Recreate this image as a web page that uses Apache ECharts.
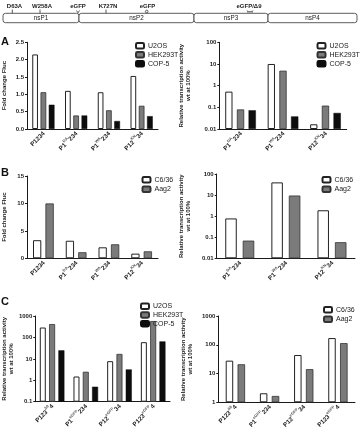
<!DOCTYPE html>
<html>
<head>
<meta charset="utf-8">
<script src="https://cdn.jsdelivr.net/npm/echarts@6/dist/echarts.min.js"></script>
<style>
  html, body { margin: 0; padding: 0; background: #fff; }
  #chart { width: 360px; height: 434px; }
</style>
</head>
<body>
<div id="chart"></div>
<script>
// categories (superscripts between ^ ^)
const catsAL = ['P1234', 'P1^DA^234', 'P1^WA^234', 'P12^KN^34'];
const catsAR = ['P1^DA^234', 'P1^WA^234', 'P12^KN^34'];
const catsC = ['P123^Δ9^4', 'P1^eGFP^234', 'P12^eGFP^34', 'P123^eGFP^4'];

// panel A, fold change
const aU2OS = [2.15, 1.1, 1.06, 1.53];
const aHEK = [1.06, 0.39, 0.54, 0.67];
const aCOP = [0.7, 0.39, 0.23, 0.37];
// panel A, relative activity
const arU2OS = [0.53, 10, 0.0165];
const arHEK = [0.08, 4.9, 0.12];
const arCOP = [0.073, 0.038, 0.055];
// panel B
const bC636 = [3.3, 3.2, 2.0, 0.85];
const bAag2 = [10, 1.1, 2.55, 1.27];
const brC636 = [0.78, 40, 1.9];
const brAag2 = [0.069, 9.5, 0.058];
// panel C
const cU2OS = [290, 1.5, 7.8, 60];
const cHEK = [420, 2.5, 17, 580];
const cCOP = [25, 0.5, 3.2, 65];
const crC636 = [28, 2.06, 44, 171];
const crAag2 = [21, 1.66, 14.2, 114];

const font = 'Liberation Sans, Arial, sans-serif';
const ink = '#1a1a1a';

const whiteBar = { color: '#ffffff', borderColor: '#222', borderWidth: 1 };
const greyBar = { color: '#7b7b7b', borderColor: '#333', borderWidth: 0.8 };
const blackBar = { color: '#0d0d0d', borderColor: '#0d0d0d', borderWidth: 0.5 };

function richLabel(v) {
  return v.split('^').map((p, i) => (i % 2 ? '{s|' + p + '}' : '{n|' + p + '}')).join('');
}

const grids = [
  { left: 27, top: 42.3, width: 131, height: 86.7 },
  { left: 219.3, top: 42.3, width: 127.4, height: 86.7 },
  { left: 26.7, top: 176, width: 131.3, height: 82.3 },
  { left: 216.7, top: 174, width: 138.3, height: 84.3 },
  { left: 28.3, top: 316, width: 141.7, height: 85.7 },
  { left: 218.3, top: 316, width: 136.7, height: 86.3 }
];

function xAxis(idx, cats) {
  return {
    type: 'category', gridIndex: idx, data: cats,
    axisLine: { lineStyle: { color: ink, width: 1 } },
    axisTick: { alignWithLabel: true, length: 2, lineStyle: { color: ink } },
    axisLabel: {
      rotate: 45, margin: 3, interval: 0, color: ink, formatter: richLabel,
      rich: {
        n: { fontSize: 6.2, fontWeight: 'bold', fontFamily: font, color: ink, lineHeight: 8, verticalAlign: 'bottom' },
        s: { fontSize: 4, fontWeight: 'bold', fontFamily: font, color: '#555', lineHeight: 8, verticalAlign: 'top' }
      }
    }
  };
}

const relName = 'Relative transcription activity\nwt at 100%';

function yAxis(idx, opts) {
  return Object.assign({
    gridIndex: idx,
    nameLocation: 'middle', nameRotate: 90,
    nameTextStyle: { fontSize: 6, fontWeight: 'bold', fontFamily: font, color: ink, lineHeight: 7 },
    axisLine: { show: true, lineStyle: { color: ink, width: 1 } },
    axisTick: { show: true, length: 2, lineStyle: { color: ink } },
    splitLine: { show: false },
    minorTick: { show: false },
    axisLabel: { fontSize: 6, fontWeight: 'bold', fontFamily: font, color: ink, margin: 3,
      formatter: v => String(+(+v).toPrecision(3)) }
  }, opts);
}

function logAxis(idx, min, max, gap) {
  return yAxis(idx, { type: 'log', logBase: 10, min: min, max: max, startValue: min, name: relName, nameGap: gap });
}

function bars(name, data, idx, style, width, gap) {
  return {
    type: 'bar', name: name, data: data, xAxisIndex: idx, yAxisIndex: idx,
    barWidth: width, barGap: gap, itemStyle: style, emphasis: { disabled: true }, silent: true
  };
}

function legend(left, top, names, gap) {
  return {
    orient: 'vertical', left: left, top: top, itemWidth: 8, itemHeight: 5.5, itemGap: gap,
    selectedMode: false, data: names,
    textStyle: { fontSize: 7, fontFamily: font, color: ink, padding: [0, 0, 0, -1] }
  };
}

// domain diagram at the top
const domains = [
  { name: 'nsP1', x0: 3, x1: 79 },
  { name: 'nsP2', x0: 79, x1: 194 },
  { name: 'nsP3', x0: 194, x1: 268 },
  { name: 'nsP4', x0: 268, x1: 357 }
];
const marks = [
  { text: 'D63A', x: 14.5, tick: 12.3, kind: 'line' },
  { text: 'W258A', x: 42, tick: 40, kind: 'line' },
  { text: 'eGFP', x: 78, tick: 78, kind: 'v' },
  { text: 'K727N', x: 108, tick: 106, kind: 'line' },
  { text: 'eGFP', x: 147.5, tick: 146.7, kind: 'o' },
  { text: 'eGFP/Δ9', x: 249, tick: 250, kind: 'w' }
];

const graphic = [];
domains.forEach(d => {
  graphic.push({ type: 'rect', shape: { x: d.x0, y: 13.3, width: d.x1 - d.x0, height: 9.4, r: 2.5 },
    style: { fill: '#fff', stroke: '#333', lineWidth: 0.8 } });
  graphic.push({ type: 'text', x: (d.x0 + d.x1) / 2, y: 18, style: { text: d.name, fontSize: 6.3, fontFamily: font,
    fill: ink, align: 'center', verticalAlign: 'middle' } });
});
marks.forEach(m => {
  graphic.push({ type: 'text', x: m.x, y: 6, style: { text: m.text, fontSize: 6, fontWeight: 'bold', fontFamily: font,
    fill: ink, align: 'center', verticalAlign: 'middle' } });
  if (m.kind === 'line') {
    graphic.push({ type: 'line', shape: { x1: m.tick, y1: 9.5, x2: m.tick, y2: 13.3 }, style: { stroke: '#333', lineWidth: 0.8 } });
  } else if (m.kind === 'v') {
    graphic.push({ type: 'polyline', shape: { points: [[m.tick - 1.5, 10.5], [m.tick, 12.8], [m.tick + 1.5, 10.5]] },
      style: { stroke: '#333', lineWidth: 0.8, fill: 'none' } });
  } else if (m.kind === 'o') {
    graphic.push({ type: 'circle', shape: { cx: m.tick, cy: 11.5, r: 1.3 }, style: { stroke: '#333', lineWidth: 0.8, fill: 'none' } });
  } else {
    graphic.push({ type: 'polyline', shape: { points: [[m.tick - 3, 10.5], [m.tick - 2, 12.5], [m.tick - 1, 11], [m.tick, 12.5],
      [m.tick + 1, 11], [m.tick + 2, 12.5], [m.tick + 3, 10.5]] }, style: { stroke: '#333', lineWidth: 0.7, fill: 'none' } });
  }
});
[['A', 1, 36], ['B', 1, 167], ['C', 1, 296]].forEach(p => {
  graphic.push({ type: 'text', x: p[1], y: p[2], style: { text: p[0], fontSize: 11, fontWeight: 'bold', fontFamily: font, fill: '#111' } });
});

const chart = echarts.init(document.getElementById('chart'), null, { renderer: 'canvas' });
chart.setOption({
  animation: false,
  backgroundColor: '#fff',
  textStyle: { fontFamily: font },
  grid: grids,
  xAxis: [xAxis(0, catsAL), xAxis(1, catsAR), xAxis(2, catsAL), xAxis(3, catsAR), xAxis(4, catsC), xAxis(5, catsC)],
  yAxis: [
    yAxis(0, { type: 'value', min: 0, max: 2.5, interval: 0.5, name: 'Fold change Fluc', nameGap: 19,
      axisLabel: { fontSize: 6, fontWeight: 'bold', fontFamily: font, color: ink, margin: 3, formatter: v => v.toFixed(1) } }),
    logAxis(1, 0.01, 100, 27),
    yAxis(2, { type: 'value', min: 0, max: 15, interval: 5, name: 'Fold change Fluc', nameGap: 19 }),
    logAxis(3, 0.01, 100, 25),
    logAxis(4, 0.1, 1000, 17),
    logAxis(5, 1, 1000, 24)
  ],
  legend: [
    legend(130, 37, ['U2OS', 'HEK293T', 'COP-5'], 1.5),
    legend(311.5, 37, ['U2OS', 'HEK293T', 'COP-5'], 1.5),
    legend(136.5, 171, ['C6/36', 'Aag2'], 2),
    legend(316.5, 171, ['C6/36', 'Aag2'], 2),
    legend(135, 297.5, ['U2OS', 'HEK293T', 'COP-5'], 1.2),
    legend(318, 301, ['C6/36', 'Aag2'], 2)
  ],
  graphic: graphic,
  series: [
    bars('U2OS', aU2OS, 0, whiteBar, 5.7, '45%'),
    bars('HEK293T', aHEK, 0, greyBar, 5.7, '45%'),
    bars('COP-5', aCOP, 0, blackBar, 5.7, '45%'),
    bars('U2OS', arU2OS, 1, whiteBar, 7.3, '60%'),
    bars('HEK293T', arHEK, 1, greyBar, 7.3, '60%'),
    bars('COP-5', arCOP, 1, blackBar, 7.3, '60%'),
    bars('C6/36', bC636, 2, whiteBar, 8.3, '50%'),
    bars('Aag2', bAag2, 2, greyBar, 8.3, '50%'),
    bars('C6/36', brC636, 3, whiteBar, 11.5, '52%'),
    bars('Aag2', brAag2, 3, greyBar, 11.5, '52%'),
    bars('U2OS', cU2OS, 4, whiteBar, 6, '55%'),
    bars('HEK293T', cHEK, 4, greyBar, 6, '55%'),
    bars('COP-5', cCOP, 4, blackBar, 6, '55%'),
    bars('C6/36', crC636, 5, whiteBar, 7.5, '58%'),
    bars('Aag2', crAag2, 5, greyBar, 7.5, '58%')
  ]
});
</script>
</body>
</html>
